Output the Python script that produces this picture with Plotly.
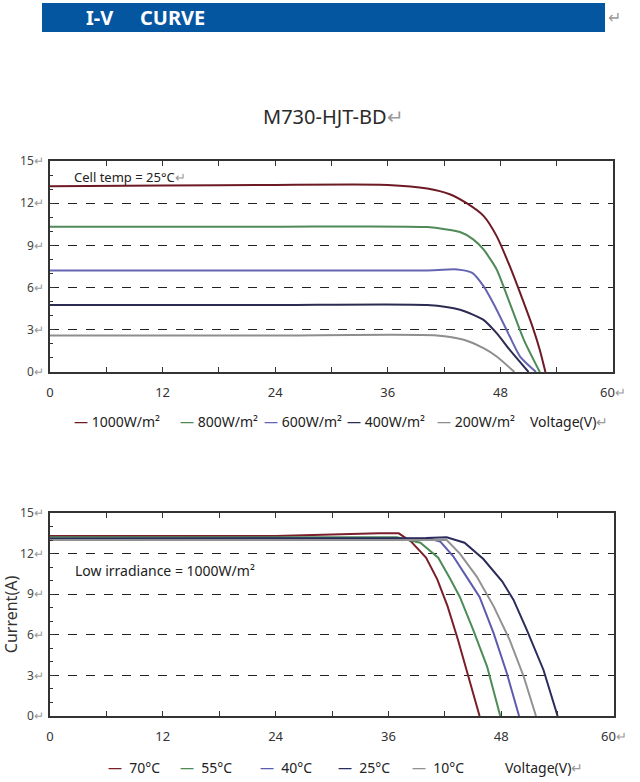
import plotly.graph_objects as go
from plotly.subplots import make_subplots

# top chart: cell temp 25C, different irradiance
irr_names = ["1000W/m²", "800W/m²", "600W/m²", "400W/m²", "200W/m²"]
irr_colors = ["#6e1a24", "#4f8a58", "#6565b2", "#2c2c52", "#8e8e8e"]
v1000 = [0, 12, 24, 36, 40.2, 42.6, 44.4, 46.2, 47.6, 49.0, 50.1, 51.5, 52.2, 52.8]
i1000 = [13.2, 13.25, 13.3, 13.3, 13.05, 12.64, 12.0, 11.1, 9.66, 7.52, 5.62, 3.07, 1.57, 0]
v800 = [0, 24, 40.2, 43.7, 45.1, 46.2, 47.6, 49.0, 50.5, 52.2]
i800 = [10.33, 10.33, 10.3, 9.95, 9.43, 8.71, 7.29, 4.9, 2.29, 0]
v600 = [0, 24, 40.0, 43.4, 45.0, 46.2, 47.6, 49.0, 50.1, 51.8]
i600 = [7.21, 7.21, 7.22, 7.29, 7.05, 6.1, 4.43, 2.52, 1.1, 0]
v400 = [0, 24, 40.2, 43.7, 46.2, 47.6, 49.0, 51.0]
i400 = [4.76, 4.76, 4.76, 4.43, 3.71, 2.76, 1.57, 0]
v200 = [0, 24, 41.2, 44.1, 46.2, 47.6, 49.5]
i200 = [2.6, 2.6, 2.6, 2.29, 1.69, 1.1, 0]

# bottom chart: 1000W/m2, different temps
temp_names = ["70°C", "55°C", "40°C", "25°C", "10°C"]
temp_colors = ["#7a1e2a", "#4d8c57", "#5c5cae", "#2b2b5c", "#929292"]
v70 = [0, 24, 35.0, 37.1, 38.4, 40.0, 41.2, 42.3, 43.4, 44.5, 45.7]
i70 = [13.3, 13.3, 13.5, 13.5, 12.9, 11.7, 10.1, 8.1, 5.63, 2.9, 0]
v55 = [0, 24, 36.9, 39.4, 41.3, 42.6, 43.6, 45.0, 46.5, 47.9]
i55 = [13.2, 13.2, 13.2, 12.8, 11.7, 10.1, 8.8, 6.4, 3.65, 0]
v40 = [0, 24, 40.4, 41.5, 42.9, 44.3, 45.7, 47.2, 48.6, 49.9]
i40 = [13.1, 13.1, 13.1, 12.9, 11.8, 10.3, 8.8, 6.1, 3.16, 0]
v25 = [0, 24, 40.0, 42.2, 44.1, 46.1, 48.1, 49.3, 50.7, 52.5, 54.0]
i25 = [13.1, 13.1, 13.15, 13.2, 12.8, 11.6, 9.95, 8.6, 6.4, 3.4, 0]
v10 = [0, 24, 42.2, 43.6, 45.4, 47.2, 48.9, 50.4, 51.7]
i10 = [13.0, 13.0, 13.0, 12.0, 10.3, 8.1, 5.63, 2.9, 0]

x_ticks = [0, 12, 24, 36, 48, 60]
y_ticks = [0, 3, 6, 9, 12, 15]

W, H = 640, 782
FONT = "Noto Sans"
ARROW = "<span style='color:#9a9a9a'>↵</span>"

fig = make_subplots(rows=2, cols=1)

top = [(v1000, i1000), (v800, i800), (v600, i600), (v400, i400), (v200, i200)]
for (v, i), name, c in zip(top, irr_names, irr_colors):
    fig.add_trace(go.Scatter(x=v, y=i, mode="lines", name=name,
                             line=dict(color=c, width=2, shape="spline", smoothing=0.6)),
                  row=1, col=1)

bottom = [(v70, i70), (v55, i55), (v40, i40), (v25, i25), (v10, i10)]
for (v, i), name, c in zip(bottom, temp_names, temp_colors):
    fig.add_trace(go.Scatter(x=v, y=i, mode="lines", name=name,
                             line=dict(color=c, width=2)),
                  row=2, col=1)

def px_x(p):
    return p / W

def px_y(p):
    return 1 - p / H

xax = dict(range=[0, 60], tickvals=x_ticks, automargin=False,
           ticktext=[str(t) for t in x_ticks[:-1]] + ["60" + ARROW],
           ticks="inside", ticklen=5, tickcolor="#333", showgrid=False, zeroline=False,
           showline=True, linecolor="#333", linewidth=1.5, mirror="ticks",
           minor=dict(dtick=6, ticks="inside", ticklen=5, tickcolor="#333"),
           tickfont=dict(family=FONT, size=13, color="#333"), ticklabelstandoff=8)
yax = dict(range=[0, 15], tickvals=y_ticks, automargin=False,
           ticktext=[str(t) + ARROW for t in y_ticks],
           ticks="inside", ticklen=5, tickcolor="#333",
           showgrid=True, gridcolor="#222", griddash="dash", gridwidth=1, zeroline=False,
           showline=True, linecolor="#333", linewidth=1.5, mirror=True,
           minor=dict(dtick=1, ticks="inside", ticklen=3, tickcolor="#333"),
           tickfont=dict(family=FONT, size=12, color="#444"), ticklabelstandoff=2)

fig.update_layout(
    xaxis=dict(xax, domain=[px_x(50), px_x(613)], anchor="y"),
    yaxis=dict(yax, domain=[px_y(372), px_y(161)], anchor="x"),
    xaxis2=dict(xax, domain=[px_x(50), px_x(614)], anchor="y2"),
    yaxis2=dict(yax, domain=[px_y(716), px_y(513)], anchor="x2"),
)
fig.update_yaxes(title_text="Current(A)", title_font=dict(family=FONT, size=16, color="#333"),
                 title_standoff=14, row=2, col=1)

# banner
fig.add_shape(type="rect", xref="paper", yref="paper",
              x0=px_x(42), x1=px_x(605), y0=px_y(32), y1=px_y(3),
              fillcolor="#0556a1", line_width=0)

ann = []
ann.append(dict(x=px_x(84), y=px_y(18), text="<b>I-V</b>", xanchor="left",
                font=dict(family=FONT, size=20, color="white")))
ann.append(dict(x=px_x(138), y=px_y(18), text="<b>CURVE</b>", xanchor="left",
                font=dict(family=FONT, size=20, color="white")))
ann.append(dict(x=px_x(606), y=px_y(17), text=ARROW, xanchor="left",
                font=dict(family=FONT, size=16)))
ann.append(dict(x=px_x(333), y=px_y(117), text="M730-HJT-BD" + ARROW,
                font=dict(family=FONT, size=20, color="#2a2a2a")))
ann.append(dict(x=px_x(72), y=px_y(177), text="Cell temp = 25°C" + ARROW, xanchor="left",
                font=dict(family=FONT, size=13, color="#222")))
ann.append(dict(x=px_x(73), y=px_y(570), text="Low irradiance = 1000W/m²", xanchor="left",
                font=dict(family=FONT, size=14, color="#222")))

# top legend
top_leg_x = [72, 178, 262, 345, 435]
for x, name, c in zip(top_leg_x, irr_names, irr_colors):
    ann.append(dict(x=px_x(x), y=px_y(421), xanchor="left",
                    text="<span style='color:%s'>—</span> %s" % (c, name),
                    font=dict(family=FONT, size=14, color="#222")))
ann.append(dict(x=px_x(528), y=px_y(421), xanchor="left", text="Voltage(V)" + ARROW,
                font=dict(family=FONT, size=14, color="#222")))

# bottom legend
bot_leg_x = [106, 178, 258, 336, 410]
for x, name, c in zip(bot_leg_x, temp_names, temp_colors):
    ann.append(dict(x=px_x(x), y=px_y(767), xanchor="left",
                    text="<span style='color:%s'>—</span>  %s" % (c, name),
                    font=dict(family=FONT, size=14, color="#222")))
ann.append(dict(x=px_x(503), y=px_y(767), xanchor="left", text="Voltage(V)" + ARROW,
                font=dict(family=FONT, size=14, color="#222")))

for a in ann:
    a.update(xref="paper", yref="paper", showarrow=False, yanchor="middle")
fig.update_layout(annotations=ann)

fig.update_layout(width=W, height=H, margin=dict(l=0, r=0, t=0, b=0, autoexpand=False),
                  paper_bgcolor="white", plot_bgcolor="white", showlegend=False,
                  font=dict(family=FONT))

fig.write_html("out.html", config={"displayModeBar": False},
               post_script="document.body.style.margin='0';")
